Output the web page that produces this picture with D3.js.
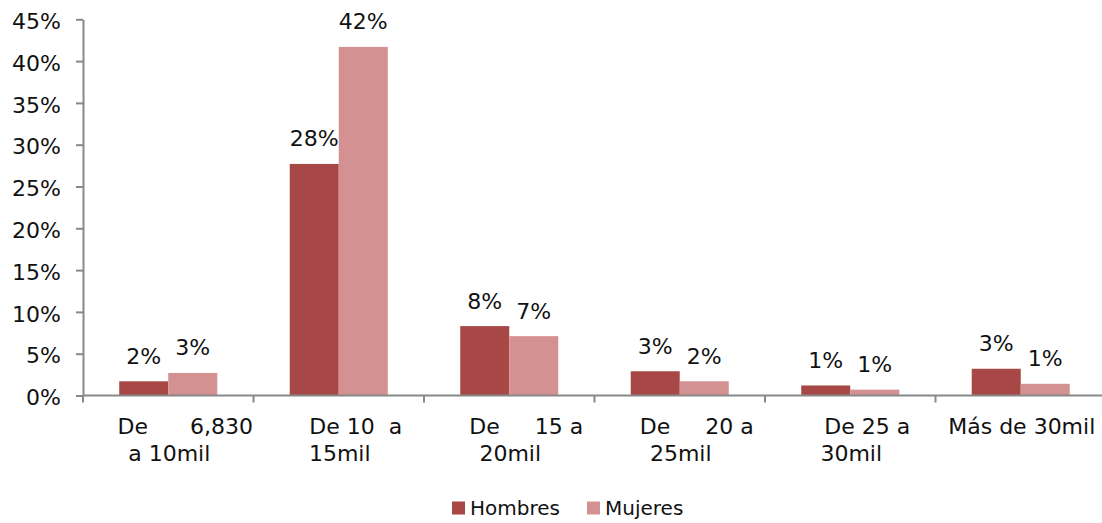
<!DOCTYPE html>
<html>
<head>
<meta charset="utf-8">
<script src="https://cdn.jsdelivr.net/npm/d3@7/dist/d3.min.js"></script>
<style>
  html, body { margin: 0; padding: 0; background: #fff; }
  svg { display: block; font-family: "DejaVu Sans", sans-serif; }
  .lbl { white-space: pre; }
</style>
</head>
<body>
<svg id="chart" width="1102" height="523"></svg>
<script>
// Income brackets (multi-line axis labels)
const categories = [
  ["De      6,830", "a 10mil"],
  ["De 10  a", "15mil"],
  ["De     15 a", "20mil"],
  ["De     20 a", "25mil"],
  ["De 25 a", "30mil"],
  ["Más de 30mil"]
];
const seriesNames = ["Hombres", "Mujeres"];
// Share of each group per bracket, in percent
const hombres = [1.7, 27.7, 8.3, 2.9, 1.2, 3.2];
const mujeres = [2.7, 41.7, 7.1, 1.7, 0.7, 1.4];
const yTicks = [0, 5, 10, 15, 20, 25, 30, 35, 40, 45];
const colors = ["#a84846", "#d39291"];

const svg = d3.select("#chart");
const plot = { left: 83, right: 1106, top: 19.3, bottom: 395.5 };

const keys = categories.map((c, i) => i);
const x0 = d3.scaleBand().domain(keys).range([plot.left, plot.right])
  .paddingInner(0.425).paddingOuter(0.2125);
const x1 = d3.scaleBand().domain(seriesNames).range([0, x0.bandwidth()]);
const y = d3.scaleLinear().domain([0, 45]).range([plot.bottom, plot.top]);

const rows = keys.map(i => ({ i, values: [hombres[i], mujeres[i]] }));

// Bars
const groups = svg.append("g").selectAll("g").data(rows).join("g")
  .attr("transform", d => `translate(${x0(d.i)},0)`);
groups.selectAll("rect")
  .data(d => d.values.map((v, k) => ({ v, k })))
  .join("rect")
  .attr("x", d => x1(seriesNames[d.k]))
  .attr("width", x1.bandwidth())
  .attr("y", d => y(d.v))
  .attr("height", d => y(0) - y(d.v))
  .attr("fill", d => colors[d.k]);

// Value labels
groups.selectAll("text")
  .data(d => d.values.map((v, k) => ({ v, k })))
  .join("text")
  .attr("x", d => x1(seriesNames[d.k]) + x1.bandwidth() / 2)
  .attr("y", d => y(d.v) - 17.5)
  .attr("text-anchor", "middle")
  .attr("font-size", 22)
  .attr("fill", "#111")
  .text(d => Math.round(d.v) + "%");

// Y axis
const yAxis = svg.append("g")
  .attr("transform", `translate(${plot.left},0)`)
  .call(d3.axisLeft(y).tickValues(yTicks).tickFormat(d => d + "%")
    .tickSize(7).tickPadding(15).tickSizeOuter(0));
yAxis.select(".domain").attr("stroke", "#888").attr("stroke-width", 2);
yAxis.selectAll(".tick line").attr("stroke", "#888").attr("stroke-width", 2);
yAxis.selectAll(".tick text").attr("font-size", 22).attr("fill", "#111")
  .attr("font-family", "DejaVu Sans").attr("dy", "0.42em");

// X axis line with ticks at bracket boundaries
const xAxis = svg.append("g");
xAxis.append("line")
  .attr("x1", plot.left).attr("x2", plot.right)
  .attr("y1", y(0)).attr("y2", y(0))
  .attr("stroke", "#888").attr("stroke-width", 2);
const bounds = d3.range(categories.length + 1).map(i => plot.left + i * x0.step());
xAxis.selectAll("line.tk").data(bounds).join("line").attr("class", "tk")
  .attr("x1", d => d).attr("x2", d => d)
  .attr("y1", y(0)).attr("y2", y(0) + 7)
  .attr("stroke", "#888").attr("stroke-width", 2);

// Category labels
const labelG = svg.append("g");
categories.forEach((lines, i) => {
  const cx = x0(i) + x0.bandwidth() / 2;
  const t = labelG.append("text").attr("class", "lbl")
    .attr("font-size", 22).attr("fill", "#111").attr("text-anchor", "middle");
  lines.forEach((ln, j) => {
    const shift = (j === 0 && lines.length > 1) ? 17 : 1;
    t.append("tspan")
      .attr("x", cx + shift)
      .attr("y", 434 + j * 27)
      .text(ln);
  });
});

// Legend
const legend = svg.append("g");
const legendX = [452, 587];
seriesNames.forEach((name, k) => {
  legend.append("rect")
    .attr("x", legendX[k]).attr("y", 501.5)
    .attr("width", 13).attr("height", 13)
    .attr("fill", colors[k]);
  legend.append("text")
    .attr("x", legendX[k] + 18).attr("y", 515)
    .attr("font-size", 20).attr("fill", "#111")
    .text(name);
});
</script>
</body>
</html>
